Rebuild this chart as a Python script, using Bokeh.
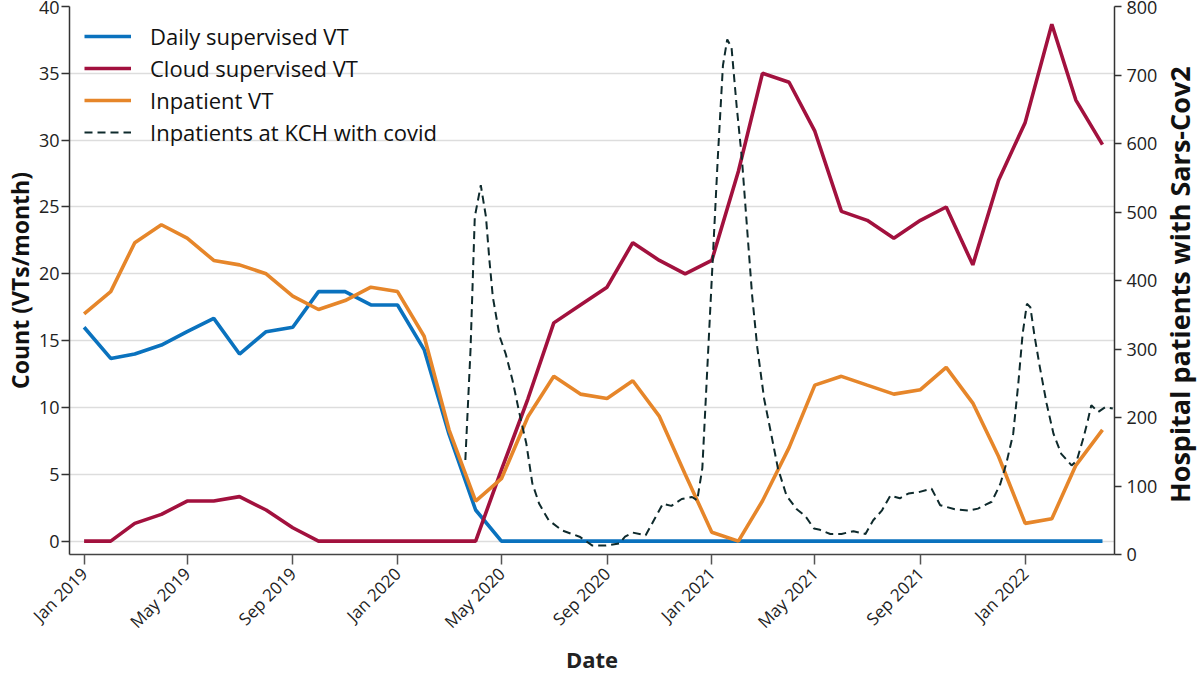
from datetime import datetime
from math import pi

import pandas as pd
from bokeh.embed import file_html
from bokeh.layouts import row
from bokeh.models import (ColumnDataSource, DatetimeTickFormatter, Div,
                          FixedTicker, Legend, LegendItem, LinearAxis,
                          MonthsTicker, Range1d)
from bokeh.plotting import figure
from bokeh.resources import INLINE

# Monthly VT counts, Jan 2019 - Apr 2022
months = pd.date_range("2019-01-01", periods=40, freq="MS")
daily_supervised = [16, 13.67, 14, 14.67, 15.67, 16.67, 14, 15.67, 16, 18.67,
                    18.67, 17.67, 17.67, 14.33, 8, 2.33,
                    0, 0, 0, 0, 0, 0, 0, 0, 0, 0, 0, 0,
                    0, 0, 0, 0, 0, 0, 0, 0, 0, 0, 0, 0]
cloud_supervised = [0, 0, 1.33, 2, 3, 3, 3.33, 2.33, 1, 0, 0, 0, 0, 0, 0, 0,
                    5.33, 10.67, 16.33, 17.67, 19, 22.33, 21, 20, 21, 27.67,
                    35, 34.33, 30.67, 24.67, 24, 22.67, 24, 25, 20.67, 27,
                    31.33, 38.67, 33, 29.67]
inpatient = [17, 18.67, 22.33, 23.67, 22.67, 21, 20.67, 20, 18.33, 17.33, 18,
             19, 18.67, 15.33, 8.33, 3, 4.67, 9.33, 12.33, 11, 10.67, 12,
             9.33, 5, 0.67, 0, 3, 7, 11.67, 12.33, 11.67, 11, 11.33, 13,
             10.33, 6.33, 1.33, 1.67, 5.67, 8.33]

# Inpatients at KCH with covid
covid_dates = ["2020-03-20", "2020-03-26", "2020-03-31", "2020-04-07", "2020-04-13",
               "2020-04-17", "2020-04-21", "2020-04-29", "2020-05-06", "2020-05-14",
               "2020-05-22", "2020-05-30", "2020-06-06", "2020-06-14", "2020-06-25",
               "2020-07-11", "2020-07-31", "2020-08-15", "2020-08-31", "2020-09-15",
               "2020-09-22", "2020-10-01", "2020-10-16", "2020-10-26", "2020-11-05",
               "2020-11-15", "2020-11-27", "2020-12-09", "2020-12-15", "2020-12-21",
               "2020-12-27", "2021-01-02", "2021-01-08", "2021-01-14", "2021-01-19",
               "2021-01-24", "2021-01-30", "2021-02-05", "2021-02-11", "2021-02-17",
               "2021-02-23", "2021-03-03", "2021-03-11", "2021-03-19", "2021-03-29",
               "2021-04-10", "2021-04-20", "2021-04-30", "2021-05-07", "2021-05-19",
               "2021-06-01", "2021-06-15", "2021-06-29", "2021-07-08", "2021-07-18",
               "2021-07-28", "2021-08-08", "2021-08-18", "2021-08-30", "2021-09-14",
               "2021-09-24", "2021-10-11", "2021-10-27", "2021-11-07", "2021-11-23",
               "2021-12-03", "2021-12-10", "2021-12-18", "2021-12-24", "2021-12-29",
               "2022-01-03", "2022-01-07", "2022-01-12", "2022-01-18", "2022-01-26",
               "2022-02-03", "2022-02-12", "2022-02-24", "2022-03-02", "2022-03-10",
               "2022-03-15", "2022-03-19", "2022-03-27", "2022-04-04", "2022-04-13"]
covid_patients = [138, 298, 493, 539, 493, 430, 376, 318, 293, 254,
                  206, 162, 104, 74, 50, 35, 26, 13, 13, 16,
                  26, 32, 28, 51, 74, 71, 81, 84, 79, 126,
                  277, 428, 579, 714, 752, 740, 654, 579, 478, 378,
                  302, 227, 177, 126, 86, 66, 56, 38, 36, 30,
                  30, 34, 30, 50, 64, 86, 82, 89, 91, 96,
                  72, 66, 64, 67, 77, 103, 133, 176, 250, 322,
                  366, 361, 318, 274, 220, 176, 147, 130, 137, 171,
                  196, 218, 208, 215, 213]

left_ticks = [0, 5, 10, 15, 20, 25, 30, 35, 40]
right_ticks = [0, 100, 200, 300, 400, 500, 600, 700, 800]

BLUE = "#0A72BE"
RED = "#A2113E"
ORANGE = "#E6862A"
DARK = "#0E2A2C"
FONT = "Open Sans"

vt = ColumnDataSource(dict(date=months, daily=daily_supervised,
                           cloud=cloud_supervised, inpatient=inpatient))
cv = ColumnDataSource(dict(date=pd.to_datetime(covid_dates), n=covid_patients))

p = figure(width=1160, height=677, x_axis_type="datetime",
           x_range=Range1d(datetime(2018, 12, 15), datetime(2022, 4, 15)),
           y_range=Range1d(-1, 40),
           output_backend="svg", toolbar_location=None,
           min_border_left=69, min_border_right=44,
           min_border_top=6, min_border_bottom=123)
p.extra_y_ranges = {"covid": Range1d(0, 800)}
p.outline_line_color = None
p.background_fill_color = "white"
p.border_fill_color = "white"

r_daily = p.line("date", "daily", source=vt, color=BLUE, line_width=3.6)
r_cloud = p.line("date", "cloud", source=vt, color=RED, line_width=3.6)
r_inp = p.line("date", "inpatient", source=vt, color=ORANGE, line_width=3.6)
r_cov = p.line("date", "n", source=cv, y_range_name="covid", color=DARK,
               line_width=2, line_dash="8 5")

# grid
p.xgrid.visible = False
p.ygrid.grid_line_color = "#DDDDDD"
p.ygrid.grid_line_width = 1.5

# bottom axis
xa = p.xaxis[0]
xa.ticker = MonthsTicker(months=[0, 4, 8])
xa.formatter = DatetimeTickFormatter(months="%b %Y", days="%b %Y", years="%b %Y")
xa.major_label_orientation = pi / 4
xa.major_label_text_font = FONT
xa.major_label_text_font_size = "17px"
xa.major_label_text_color = "#222222"
xa.major_label_standoff = 6
xa.axis_line_color = "#444444"
xa.axis_line_width = 1.5
xa.major_tick_line_color = "#555555"
xa.major_tick_line_width = 1.5
xa.major_tick_out = 10
xa.major_tick_in = 0
xa.minor_tick_line_color = None
xa.axis_label = "Date"
xa.axis_label_text_font = FONT
xa.axis_label_text_font_style = "bold"
xa.axis_label_text_font_size = "22px"
xa.axis_label_text_color = "#222222"
xa.axis_label_standoff = 0

# left axis
ya = p.yaxis[0]
ya.ticker = FixedTicker(ticks=left_ticks)
ya.major_label_text_font = FONT
ya.major_label_text_font_size = "18px"
ya.major_label_text_color = "#222222"
ya.major_label_standoff = 2
ya.axis_line_color = "#333333"
ya.axis_line_width = 1.5
ya.major_tick_line_color = "#333333"
ya.major_tick_line_width = 1.5
ya.major_tick_out = 8
ya.major_tick_in = 0
ya.minor_tick_line_color = None
ya.axis_label = "Count (VTs/month)"
ya.axis_label_text_font = FONT
ya.axis_label_text_font_style = "bold"
ya.axis_label_text_font_size = "23px"
ya.axis_label_text_color = "#111111"
ya.axis_label_standoff = 0

# right axis, patient counts
ra = LinearAxis(y_range_name="covid", ticker=FixedTicker(ticks=right_ticks))
ra.major_label_text_font = FONT
ra.major_label_text_font_size = "18px"
ra.major_label_text_color = "#222222"
ra.major_label_standoff = 5
ra.axis_line_color = "#333333"
ra.axis_line_width = 1.5
ra.major_tick_line_color = "#333333"
ra.major_tick_line_width = 1.5
ra.major_tick_out = 7
ra.major_tick_in = 0
ra.minor_tick_line_color = None
p.add_layout(ra, "right")

legend = Legend(items=[
    LegendItem(label="Daily supervised VT", renderers=[r_daily]),
    LegendItem(label="Cloud supervised VT", renderers=[r_cloud]),
    LegendItem(label="Inpatient VT", renderers=[r_inp]),
    LegendItem(label="Inpatients at KCH with covid", renderers=[r_cov]),
], location=(15, 407))
legend.margin = 0
legend.padding = 0
legend.spacing = 2
legend.label_height = 30
legend.glyph_height = 30
legend.glyph_width = 47
legend.label_standoff = 19
legend.label_text_font = FONT
legend.label_text_font_size = "22px"
legend.label_text_color = "#111111"
legend.background_fill_alpha = 0
legend.border_line_alpha = 0
p.add_layout(legend, "center")

# title of the right-hand axis, read from bottom to top
right_title = Div(
    text=("<div style=\"writing-mode:vertical-rl;transform:rotate(180deg);"
          "height:548px;width:40px;line-height:40px;text-align:center;"
          "white-space:nowrap;font-family:'Open Sans';font-weight:bold;"
          "font-size:27px;color:#111111;margin-top:11px;\">"
          "Hospital patients with Sars-Cov2</div>"),
    width=40, height=677, margin=(0, 0, 0, 0))

layout = row(p, right_title)

open("out.html", "w").write(file_html(layout, INLINE))
